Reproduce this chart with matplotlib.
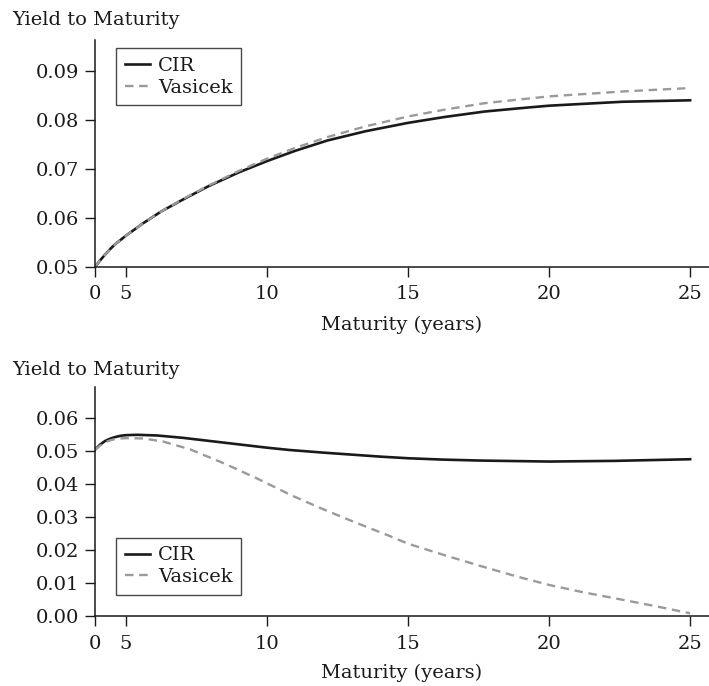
import numpy as np
import matplotlib
matplotlib.use("Agg")
import matplotlib.pyplot as plt

plt.rcParams['font.family'] = ['DejaVu Serif']
plt.rcParams['font.size'] = 14

# maturity (years) as labelled on the axis
mat_top = [0, 0.8, 1.6, 2.4, 3.2, 4.1, 5, 5.6, 6.24, 7, 7.93, 9, 10, 11, 12.14,
           13.5, 15, 16.3, 17.7, 19, 20, 21.3, 22.6, 25]
cir_top = [0.0500, 0.0513, 0.0525, 0.0536, 0.0546, 0.0555, 0.0564, 0.0589,
           0.0613, 0.0637, 0.0665, 0.0693, 0.0716, 0.0737, 0.0758, 0.0777,
           0.0794, 0.0806, 0.0817, 0.0824, 0.0829, 0.0833, 0.0837, 0.0840]
vas_top = [0.0500, 0.0513, 0.0525, 0.0536, 0.0546, 0.0555, 0.0564, 0.0589,
           0.0613, 0.0638, 0.0666, 0.0696, 0.0721, 0.0743, 0.0765, 0.0787,
           0.0807, 0.0821, 0.0834, 0.0842, 0.0848, 0.0853, 0.0858, 0.0865]

mat_cir_bot = [0, 0.8, 1.6, 2.4, 3.2, 4.1, 5, 5.4, 6.1, 7, 8, 9, 10, 10.8,
               12, 13, 14, 15, 16.2, 17.55, 20, 22.3, 25]
cir_bot = [0.0505, 0.0520, 0.0531, 0.0538, 0.0543, 0.0547, 0.0549, 0.0550,
           0.0548, 0.0541, 0.0531, 0.0521, 0.0511, 0.0504, 0.0496, 0.0490,
           0.0484, 0.0479, 0.0475, 0.0472, 0.0469, 0.0471, 0.0476]
mat_vas_bot = [0, 0.8, 1.6, 2.4, 3.2, 4.1, 5, 5.6, 6.3, 7.27, 8.46, 9.64, 10.83,
               12, 13.2, 14.3, 15, 16.3, 17.55, 18.8, 20, 21.2, 22.3, 23.7, 25]
vas_bot = [0.0505, 0.0517, 0.0527, 0.0533, 0.0537, 0.0539, 0.0540, 0.0539,
           0.0530, 0.0506, 0.0464, 0.0418, 0.0368, 0.0324, 0.0282, 0.0245,
           0.0220, 0.0185, 0.0153, 0.0122, 0.0095, 0.0073, 0.0055, 0.0032, 0.0009]

xticks = [0, 5, 10, 15, 20, 25]
yticks_top = [0.05, 0.06, 0.07, 0.08, 0.09]
yticks_bot = [0.00, 0.01, 0.02, 0.03, 0.04, 0.05, 0.06]


# the first stretch (0-5) of the maturity axis is squeezed in the original
def fwd(x):
    x = np.asarray(x, dtype=float)
    return np.where(x < 5, 3.9 + x * 1.1 / 5, x)


def inv(y):
    y = np.asarray(y, dtype=float)
    return np.where(y < 5, (y - 3.9) * 5 / 1.1, y)


fig = plt.figure(figsize=(7.09, 6.86), dpi=100)
ax1 = fig.add_axes([0.134, 0.6108, 0.866, 0.3309])
ax2 = fig.add_axes([0.134, 0.1016, 0.866, 0.3343])

txt = '#1a1a1a'
panels = [(ax1, mat_top, cir_top, mat_top, vas_top, yticks_top, (0.05, 0.0963), 0.965, 'upper left', 325),
          (ax2, mat_cir_bot, cir_bot, mat_vas_bot, vas_bot, yticks_bot, (0.0, 0.0695), 0.093, 'lower left', 673)]

for ax, mc, cir, mv, vas, yt, yl, ly, loc, xl_y in panels:
    ax.set_xscale('function', functions=(fwd, inv))
    ax.plot(mc, cir, color='#1a1a1a', lw=1.9, label='CIR', solid_joinstyle='round')
    ax.plot(mv, vas, color='#9a9a9a', lw=1.7, ls=(0, (3.6, 2.4)), label='Vasicek')
    ax.set_xlim(0, 25.67)
    ax.set_ylim(*yl)
    ax.set_xticks(xticks)
    ax.set_xticklabels([str(t) for t in xticks])
    ax.set_yticks(yt)
    ax.set_yticklabels(['%.2f' % t for t in yt])
    ax.xaxis.set_minor_locator(matplotlib.ticker.NullLocator())
    for s in ['top', 'right']:
        ax.spines[s].set_visible(False)
    for s in ['left', 'bottom']:
        ax.spines[s].set_linewidth(1.1)
        ax.spines[s].set_color(txt)
    ax.tick_params(direction='out', length=7.2, width=1.0, colors=txt, labelsize=14)
    ax.tick_params(axis='y', pad=4)
    ax.tick_params(axis='x', pad=6)
    leg = ax.legend(loc=loc, bbox_to_anchor=(0.0342, ly), borderaxespad=0,
                    fancybox=False, frameon=True, edgecolor=txt, fontsize=14,
                    handlelength=1.3, handletextpad=0.4, labelspacing=0.2,
                    borderpad=0.45)
    leg.get_frame().set_linewidth(1.0)
    for t in leg.get_texts():
        t.set_color(txt)
    fig.text(402 / 709, 1 - xl_y / 686, 'Maturity (years)', ha='center', va='center',
             color=txt, fontsize=14)

fig.text(12 / 709, 1 - 20 / 686, 'Yield to Maturity', ha='left', va='center',
         color=txt, fontsize=14)
fig.text(12 / 709, 1 - 370 / 686, 'Yield to Maturity', ha='left', va='center',
         color=txt, fontsize=14)

fig.savefig('out.png', dpi=100)
